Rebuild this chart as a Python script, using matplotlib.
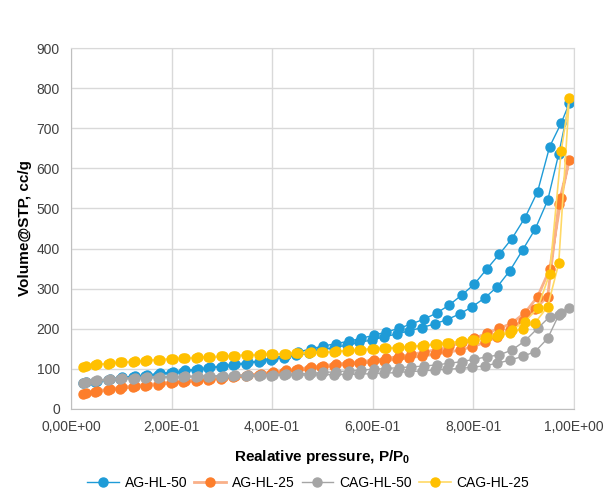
import matplotlib
matplotlib.use("Agg")
import matplotlib.pyplot as plt

# Relative pressure grid (adsorption up, desorption down)
P_ADS = [0.023, 0.048, 0.073, 0.098, 0.123, 0.148, 0.173, 0.198, 0.223, 0.248,
         0.273, 0.298, 0.323, 0.348, 0.373, 0.398, 0.423, 0.448, 0.473, 0.498,
         0.523, 0.548, 0.573, 0.598, 0.623, 0.648, 0.673, 0.698, 0.723, 0.748,
         0.773, 0.798, 0.823, 0.848, 0.873, 0.898, 0.923, 0.948, 0.970, 0.991]
P_DES = [0.975, 0.952, 0.928, 0.903, 0.877, 0.852, 0.827, 0.802, 0.777, 0.752,
         0.727, 0.702, 0.677, 0.652, 0.627, 0.602, 0.577, 0.552, 0.527, 0.502,
         0.477, 0.452, 0.427, 0.402, 0.377, 0.352, 0.327, 0.302, 0.277, 0.252,
         0.227, 0.202, 0.177, 0.152, 0.127, 0.102, 0.077, 0.052, 0.030]

# AG-HL-50
ag50_ads = [64, 68, 72, 76, 79, 82, 86, 89, 93, 97,
            101, 105, 109, 113, 118, 123, 128, 134, 140, 147,
            153, 159, 166, 172, 180, 187, 195, 203, 212, 223,
            237, 255, 277, 305, 345, 396, 448, 520, 636, 762]
ag50_des = [713, 654, 542, 477, 425, 386, 349, 311, 284, 259,
            239, 224, 212, 201, 192, 184, 176, 169, 163, 157,
            150, 142, 134, 127, 121, 116, 112, 108, 104, 100,
            96, 92, 89, 85, 82, 79, 75, 71, 67]

# AG-HL-25
ag25_ads = [37, 42, 47, 51, 55, 58, 61, 64, 67, 70,
            73, 76, 79, 82, 85, 88, 92, 96, 100, 104,
            108, 111, 114, 117, 120, 124, 128, 132, 136, 141,
            147, 155, 166, 180, 197, 220, 250, 280, 510, 622]
ag25_des = [527, 348, 280, 240, 214, 201, 189, 176, 166, 156,
            148, 142, 136, 131, 126, 122, 118, 115, 112, 108,
            104, 100, 96, 92, 88, 85, 82, 79, 76, 73,
            70, 67, 64, 61, 58, 54, 50, 45, 40]

# CAG-HL-50
cag50_ads = [66, 70, 73, 75, 76, 77, 78, 79, 80, 80,
             81, 81, 82, 82, 83, 83, 84, 84, 85, 85,
             86, 86, 87, 88, 89, 91, 93, 95, 97, 99,
             101, 104, 108, 114, 122, 131, 143, 176, 234, 253]
cag50_des = [240, 230, 201, 170, 147, 135, 130, 124, 118, 114,
             110, 107, 105, 103, 101, 99, 97, 95, 93, 91,
             89, 88, 87, 86, 85, 84, 84, 83, 83, 82,
             82, 81, 80, 79, 78, 77, 75, 72, 68]

# CAG-HL-25
cag25_ads = [105, 110, 113, 116, 118, 120, 122, 124, 126, 128,
             129, 131, 132, 134, 135, 136, 137, 139, 140, 141,
             143, 145, 147, 149, 151, 153, 155, 158, 161, 164,
             167, 171, 176, 182, 190, 200, 215, 255, 363, 775]
cag25_des = [644, 337, 251, 218, 197, 186, 179, 173, 169, 165,
             162, 159, 156, 154, 152, 150, 148, 146, 144, 142,
             141, 140, 138, 137, 136, 135, 133, 132, 130, 129,
             127, 125, 123, 121, 119, 117, 114, 111, 107]

series = [
    ("AG-HL-50", ag50_ads, ag50_des, "#1E9BD7", "#1E9BD7", 1.0),
    ("AG-HL-25", ag25_ads, ag25_des, "#FD7E2B", "#F9B089", 2.0),
    ("CAG-HL-50", cag50_ads, cag50_des, "#A5A5A5", "#A5A5A5", 1.0),
    ("CAG-HL-25", cag25_ads, cag25_des, "#FFC000", "#FFD966", 1.2),
]

plt.rcParams["font.family"] = ["Liberation Sans", "DejaVu Sans"]
plt.rcParams["mathtext.fontset"] = "custom"
plt.rcParams["mathtext.bf"] = "Liberation Sans:bold"
plt.rcParams["mathtext.rm"] = "Liberation Sans"

fig = plt.figure(figsize=(6.04, 5.0), dpi=100)
ax = fig.add_axes([0.1175, 0.182, 0.8325, 0.722])

for name, ads, des, mcol, lcol, lw in series:
    x = P_ADS + P_DES
    y = ads + des
    ax.plot(x, y, color=lcol, linewidth=lw, marker="o", markersize=6.5,
            markerfacecolor=mcol, markeredgecolor=mcol, label=name)

ax.set_xlim(0, 1.0)
ax.set_ylim(0, 900)
ax.set_xticks([0, 0.2, 0.4, 0.6, 0.8, 1.0])
ax.set_xticklabels(["0,00E+00", "2,00E-01", "4,00E-01", "6,00E-01", "8,00E-01", "1,00E+00"])
ax.set_yticks(range(0, 901, 100))
ax.tick_params(length=0, labelsize=10, colors="#404040", pad=8)
ax.grid(True, color="#D9D9D9", linewidth=1)
ax.set_axisbelow(True)
for side in ["top", "right"]:
    ax.spines[side].set_color("#D9D9D9")
for side in ["left", "bottom"]:
    ax.spines[side].set_color("#BFBFBF")

ax.set_xlabel(r"Realative pressure, P/P$_\mathbf{0}$", fontsize=11, fontweight="bold", labelpad=10)
ax.set_ylabel("Volume@STP, cc/g", fontsize=11, fontweight="bold", labelpad=3)

fig.legend(loc="lower center", ncol=4, frameon=False, fontsize=10,
           bbox_to_anchor=(0.51, -0.005), handlelength=2.3, columnspacing=0.5,
           handletextpad=0.4)

fig.savefig("out.png", dpi=100)
